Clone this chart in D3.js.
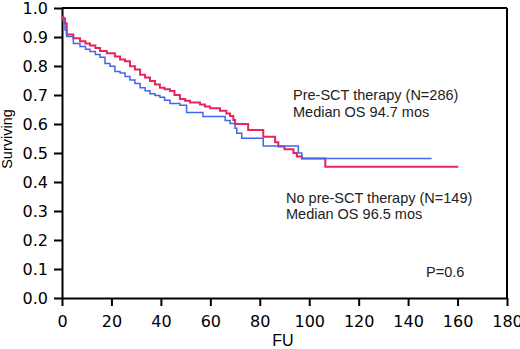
<!DOCTYPE html>
<html>
<head>
<meta charset="utf-8">
<script src="https://cdn.jsdelivr.net/npm/d3@7"></script>
<style>
html,body{margin:0;padding:0;background:#fff;}
svg{display:block;}
</style>
</head>
<body>
<svg id="chart" width="520" height="349"></svg>
<script>
// Pre-SCT therapy (red) — step events [time (months), survival]
const preTime = [0, 0.5, 1.2, 1.9, 4.6, 7.3, 9.5, 11.3, 13.5, 15.4, 18.1, 21.4, 23.5, 25.5, 27.5, 29.5, 31.6, 33.6, 35.6, 37.6, 39.6, 41.5, 43.7, 45.5, 47.7, 49.8, 51.8, 55.8, 57.8, 59.9, 63.9, 66.5, 68.0, 69.3, 70.0, 75.3, 81.4, 86.2, 87.5, 90.0, 93.6, 95.0, 97.0, 106.5, 160.3];
const preSurv = [0.97, 0.965, 0.947, 0.909, 0.896, 0.885, 0.878, 0.871, 0.862, 0.852, 0.844, 0.833, 0.822, 0.816, 0.799, 0.788, 0.770, 0.760, 0.748, 0.736, 0.725, 0.720, 0.714, 0.700, 0.686, 0.680, 0.674, 0.667, 0.660, 0.654, 0.646, 0.636, 0.628, 0.614, 0.600, 0.579, 0.556, 0.537, 0.522, 0.513, 0.500, 0.488, 0.481, 0.453, 0.453];

// No pre-SCT therapy (blue)
const noTime = [0, 0.5, 1.2, 1.9, 4.6, 7.3, 9.5, 11.3, 13.5, 15.4, 17.4, 19.4, 21.4, 23.5, 25.5, 27.5, 29.5, 31.6, 33.6, 35.6, 37.6, 39.6, 41.5, 43.7, 47.7, 50.4, 57.0, 66.0, 68.0, 70.0, 70.7, 72.7, 81.4, 95.6, 97.0, 149.5];
const noSurv = [0.96, 0.955, 0.924, 0.902, 0.878, 0.867, 0.858, 0.850, 0.840, 0.830, 0.809, 0.799, 0.781, 0.776, 0.764, 0.752, 0.740, 0.725, 0.715, 0.704, 0.698, 0.692, 0.682, 0.671, 0.665, 0.640, 0.626, 0.612, 0.602, 0.585, 0.568, 0.551, 0.524, 0.500, 0.481, 0.481];

const xTicks = [0, 20, 40, 60, 80, 100, 120, 140, 160, 180];
const yTicks = [0, 0.1, 0.2, 0.3, 0.4, 0.5, 0.6, 0.7, 0.8, 0.9, 1.0];

const svg = d3.select("#chart");
const m = {left: 62, top: 8, right: 13, bottom: 51};
const W = 520 - m.left - m.right, H = 349 - m.top - m.bottom;
const g = svg.append("g").attr("transform", `translate(${m.left},${m.top})`);

const x = d3.scaleLinear().domain([0, 180]).range([0, W]);
const y = d3.scaleLinear().domain([0, 1]).range([H, 0]);

// frame top & right
g.append("line").attr("x1", 0).attr("x2", W).attr("y1", 0).attr("y2", 0)
  .attr("stroke", "#000").attr("stroke-width", 2);
g.append("line").attr("x1", W).attr("x2", W).attr("y1", 0).attr("y2", H)
  .attr("stroke", "#000").attr("stroke-width", 2);

const tickFont = "DejaVu Sans, Verdana, sans-serif";

const xAxis = g.append("g").attr("transform", `translate(0,${H})`)
  .call(d3.axisBottom(x).tickValues(xTicks).tickFormat(d3.format("d")).tickSize(8).tickPadding(10).tickSizeOuter(0));
const yAxis = g.append("g")
  .call(d3.axisLeft(y).tickValues(yTicks).tickFormat(d3.format(".1f")).tickSize(8).tickPadding(6).tickSizeOuter(0));

[xAxis, yAxis].forEach(a => {
  a.select(".domain").attr("stroke", "#000").attr("stroke-width", 2);
  a.selectAll(".tick line").attr("stroke", "#000").attr("stroke-width", 2);
  a.selectAll(".tick text").attr("font-family", tickFont).attr("font-size", 16).attr("fill", "#000");
});

const line = d3.line().x(d => x(d[0])).y(d => y(d[1])).curve(d3.curveStepAfter);

const noData = noTime.map((t, i) => [t, noSurv[i]]);
const preData = preTime.map((t, i) => [t, preSurv[i]]);

g.append("path").datum(preData).attr("d", line)
  .attr("fill", "none").attr("stroke", "#e8245a").attr("stroke-width", 2);
g.append("path").datum(noData).attr("d", line)
  .attr("fill", "none").attr("stroke", "#4466e6").attr("stroke-width", 1.5);

// labels
const labFont = "Liberation Sans, Arial, sans-serif";
svg.append("text").attr("x", 283).attr("y", 346).attr("text-anchor", "middle")
  .attr("font-family", labFont).attr("font-size", 16).attr("fill", "#000").text("FU");
svg.append("text").attr("transform", "translate(12,139) rotate(-90)").attr("text-anchor", "middle")
  .attr("font-family", labFont).attr("font-size", 14.5).attr("fill", "#000").text("Surviving");

const ann = [
  {x: 293, y: 100, t: "Pre-SCT therapy (N=286)"},
  {x: 293, y: 116.5, t: "Median OS 94.7 mos"},
  {x: 286, y: 202.5, t: "No pre-SCT therapy (N=149)"},
  {x: 286, y: 219, t: "Median OS 96.5 mos"},
  {x: 426, y: 277, t: "P=0.6"}
];
svg.selectAll("text.ann").data(ann).enter().append("text").attr("class", "ann")
  .attr("x", d => d.x).attr("y", d => d.y)
  .attr("font-family", labFont).attr("font-size", 14.5).attr("fill", "#222").text(d => d.t);
</script>
</body>
</html>
